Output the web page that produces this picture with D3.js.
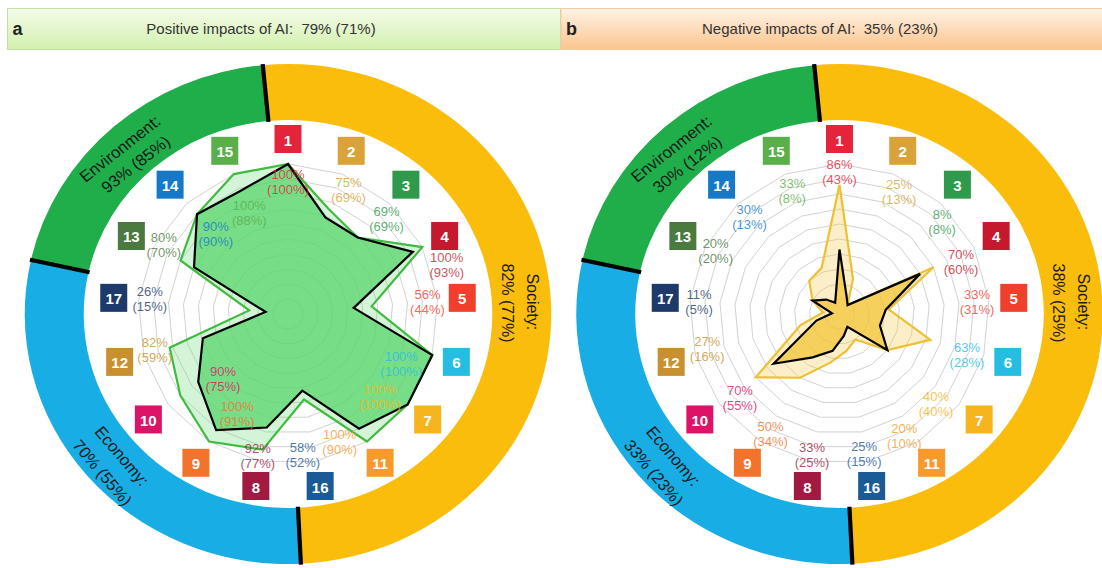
<!DOCTYPE html>
<html>
<head>
<meta charset="utf-8">
<script src="https://cdn.jsdelivr.net/npm/d3@7"></script>
<style>
  body { margin: 0; background: #fff; }
  svg { display: block; font-family: "Liberation Sans", Arial, sans-serif; }
</style>
</head>
<body>
<svg id="chart" width="1102" height="568"></svg>
<script>
// SDGs in the clockwise order they sit around the wheel
const sdgs = ["1", "2", "3", "4", "5", "6", "7", "11", "16", "8", "9", "10", "12", "17", "13", "14", "15"];
const sdgColors = ["#e5243b", "#d9a33a", "#2f9a4b", "#c5192d", "#f0402b", "#26bde2", "#f6b51c", "#f89a2b", "#1a5a96",
                   "#a21942", "#f2732c", "#dd1367", "#c8902f", "#1d3a6b", "#4b7a3f", "#1679c8", "#5aaf4b"];

// positive impacts: all targets / (targets with published evidence)
const positiveAll    = [100, 75, 69, 100, 56, 100, 100, 100, 58, 92, 100, 90, 82, 26, 80, 90, 100];
const positiveStrong = [100, 69, 69, 93, 44, 100, 100, 90, 52, 77, 91, 75, 59, 15, 70, 90, 88];
// negative impacts
const negativeAll    = [86, 25, 8, 70, 33, 63, 40, 20, 25, 33, 50, 70, 27, 11, 20, 30, 33];
const negativeStrong = [43, 13, 8, 60, 31, 28, 40, 10, 15, 25, 34, 55, 16, 5, 20, 13, 8];

const panelTitles = ["Positive impacts of AI:  79% (71%)", "Negative impacts of AI:  35% (23%)"];
const panelLetters = ["a", "b"];
const groupNames = ["Society:", "Economy:", "Environment:"];
const groupValuesPos = ["82% (77%)", "70% (55%)", "93% (85%)"];
const groupValuesNeg = ["38% (25%)", "33% (23%)", "30% (12%)"];
const gridTicks = [10, 20, 30, 40, 50, 60, 70, 80, 90, 100];

// layout: where each value label sits [angle deg, radius px]
const labelLayoutA = [[0, 132], [26, 138], [46, 137], [73, 166], [85, 140], [114, 124], [132, 124], [158, 138], [174, 142],
                      [192, 145], [207, 112], [225, 92], [255, 138], [276, 139], [299, 142], [318, 108], [339, 108]];
const labelLayoutB = [[0, 142], [26, 136], [48, 138], [67, 132], [85, 138], [108, 134], [133, 132], [152, 138], [170, 142],
                      [191, 144], [210, 138], [230, 130], [255, 137], [275, 141], [297, 139], [317, 132], [339, 132]];
// ring: group boundaries in degrees (clockwise from top)
const ringBreaks = [-5.5, 177.2, 282.5, 354.5];
const ringColors = ["#fbbd0c", "#19ade6", "#1fae4a"];

const svg = d3.select("#chart");
const defs = svg.append("defs");

function addGrad(id, top, bottom) {
  const lg = defs.append("linearGradient").attr("id", id).attr("x1", 0).attr("y1", 0).attr("x2", 0).attr("y2", 1);
  lg.append("stop").attr("offset", "0%").attr("stop-color", top);
  lg.append("stop").attr("offset", "100%").attr("stop-color", bottom);
}
addGrad("headA", "#f4fbe9", "#d3f0ae");
addGrad("headB", "#fff3e6", "#fbc48e");

const panels = [
  { cx: 288, cy: 314, boxX: 7.5, boxW: 553, grad: "headA", boxStroke: "#c3e0a2", titleX: 261,
    all: positiveAll, strong: positiveStrong, groupValues: groupValuesPos, layout: labelLayoutA,
    outerFill: "#6fdc7a", innerFill: "#5ad66c", outerStroke: "#3fbc3f" },
  { cx: 839.5, cy: 314, boxX: 561, boxW: 560, grad: "headB", boxStroke: "#f2cba6", titleX: 820,
    all: negativeAll, strong: negativeStrong, groupValues: groupValuesNeg, layout: labelLayoutB,
    outerFill: "#f5c842", innerFill: "#f3c63a", outerStroke: "#eec033" }
];

const rad = deg => deg * Math.PI / 180;
const angle = d3.scaleLinear().domain([0, sdgs.length]).range([0, 2 * Math.PI]);
const r = d3.scaleLinear().domain([0, 100]).range([0, 150]);
const ringIn = 194, ringOut = 250, squareR = 175;

const radar = d3.lineRadial()
  .angle((d, i) => angle(i))
  .radius(d => r(d))
  .curve(d3.curveLinearClosed);

panels.forEach((p, pi) => {
  // header bar
  svg.append("rect")
    .attr("x", p.boxX).attr("y", 8.5).attr("width", p.boxW).attr("height", 41)
    .attr("fill", `url(#${p.grad})`).attr("stroke", p.boxStroke);
  svg.append("text")
    .attr("x", p.boxX + 5).attr("y", 35)
    .style("font-size", "18px").style("font-weight", "bold").attr("fill", "#222")
    .text(panelLetters[pi]);
  svg.append("text")
    .attr("x", p.titleX).attr("y", 34).attr("text-anchor", "middle")
    .style("font-size", "15px").style("white-space", "pre").attr("fill", "#333")
    .text(panelTitles[pi]);

  const g = svg.append("g").attr("transform", `translate(${p.cx},${p.cy})`);

  // outer ring, slightly wider than tall like the original
  const ring = g.append("g").attr("transform", "scale(1.053,1)");
  const arc = d3.arc().innerRadius(ringIn).outerRadius(ringOut);
  ring.selectAll("path.seg")
    .data(ringColors)
    .join("path")
      .attr("class", "seg")
      .attr("d", (d, i) => arc({ startAngle: rad(ringBreaks[i]), endAngle: rad(ringBreaks[i + 1]) }))
      .attr("fill", d => d);
  ring.selectAll("line.sep")
    .data(ringBreaks.slice(0, 3))
    .join("line")
      .attr("class", "sep")
      .attr("x1", d => (ringIn - 1) * Math.sin(rad(d))).attr("y1", d => -(ringIn - 1) * Math.cos(rad(d)))
      .attr("x2", d => (ringOut + 1) * Math.sin(rad(d))).attr("y2", d => -(ringOut + 1) * Math.cos(rad(d)))
      .attr("stroke", "#000").attr("stroke-width", 4);

  // ring labels: [theta, rotation, radius of name, radius of value]
  const ringLabelPos = [[87, 90, 233, 209], [228, 51, 212, 237], [-44, -39.5, 230, 208.5]];
  groupNames.forEach((name, i) => {
    const [th, rot, rn, rv] = ringLabelPos[i];
    [[name, rn], [p.groupValues[i], rv]].forEach(([txt, rr]) => {
      ring.append("text")
        .attr("transform", `translate(${rr * Math.sin(rad(th))},${-rr * Math.cos(rad(th))}) rotate(${rot})`)
        .attr("text-anchor", "middle").attr("dominant-baseline", "central")
        .style("font-size", "16px").attr("fill", "#1a1a1a")
        .text(txt);
    });
  });

  // grid
  g.selectAll("path.grid")
    .data(gridTicks)
    .join("path")
      .attr("class", "grid")
      .attr("d", t => radar(sdgs.map(() => t)))
      .attr("fill", "none").attr("stroke", "#d2d2d2").attr("stroke-width", 1);

  // radar polygons
  g.append("path").attr("d", radar(p.all)).attr("fill", p.outerFill).attr("fill-opacity", 0.3);
  g.append("path").attr("d", radar(p.strong)).attr("fill", p.innerFill).attr("fill-opacity", 0.75);
  g.append("path").attr("d", radar(p.all)).attr("fill", "none")
    .attr("stroke", p.outerStroke).attr("stroke-width", 2.2).attr("stroke-linejoin", "miter");
  g.append("path").attr("d", radar(p.strong)).attr("fill", "none")
    .attr("stroke", "#000").attr("stroke-width", 2.2).attr("stroke-linejoin", "miter");

  // SDG squares
  const sq = g.selectAll("g.sdg")
    .data(sdgs)
    .join("g")
      .attr("class", "sdg")
      .attr("transform", (d, i) => `translate(${squareR * Math.sin(angle(i))},${-squareR * Math.cos(angle(i))})`);
  sq.append("rect")
    .attr("x", -13.5).attr("y", -14).attr("width", 27).attr("height", 28)
    .attr("fill", (d, i) => sdgColors[i]);
  sq.append("text")
    .attr("text-anchor", "middle").attr("dominant-baseline", "central").attr("y", 1)
    .style("font-size", "15px").style("font-weight", "bold").attr("fill", "#fff")
    .text(d => d);

  // value labels
  const lab = g.selectAll("text.val")
    .data(sdgs)
    .join("text")
      .attr("class", "val")
      .attr("transform", (d, i) => {
        const [th, rr] = p.layout[i];
        return `translate(${rr * Math.sin(rad(th))},${-rr * Math.cos(rad(th))})`;
      })
      .attr("text-anchor", "middle")
      .style("font-size", "13px")
      .attr("fill", (d, i) => sdgColors[i]).attr("fill-opacity", 0.8);
  lab.append("tspan").attr("x", 0).attr("y", -3).text((d, i) => `${p.all[i]}%`);
  lab.append("tspan").attr("x", 0).attr("y", 12).text((d, i) => `(${p.strong[i]}%)`);
});
</script>
</body>
</html>
